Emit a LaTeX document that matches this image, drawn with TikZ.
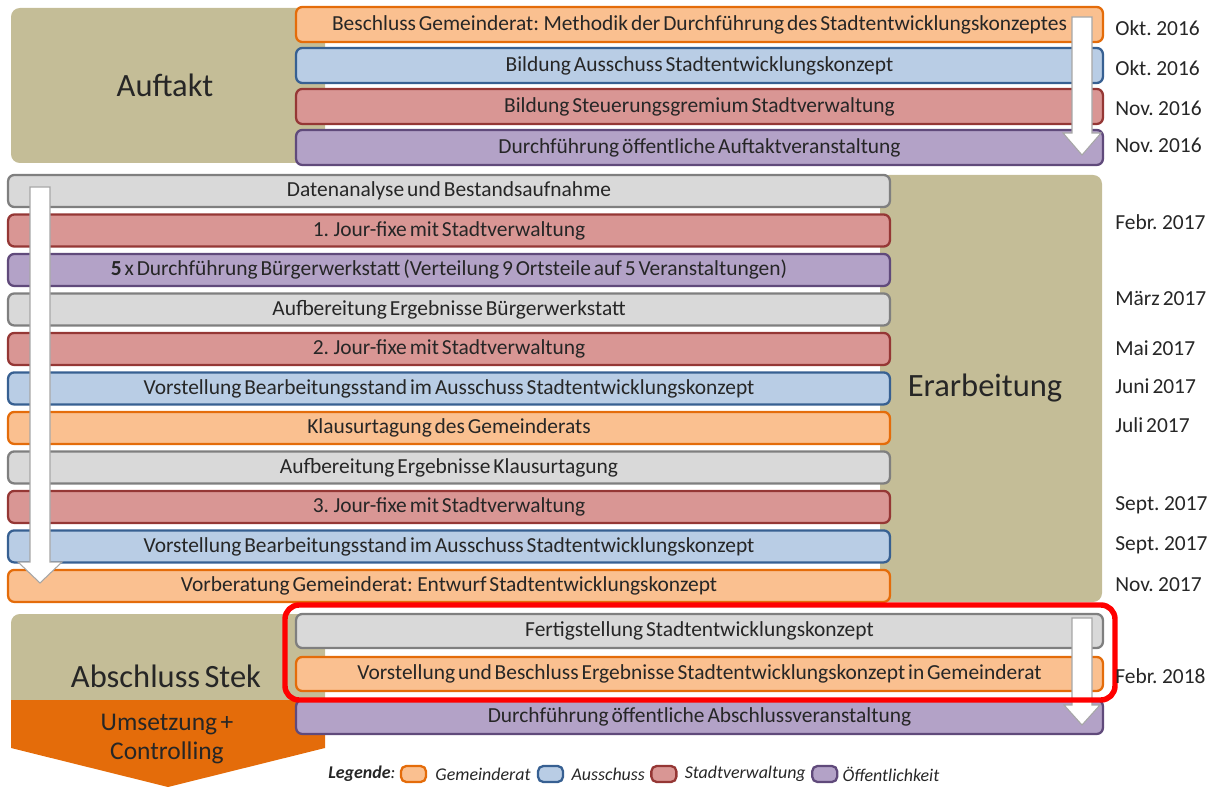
\documentclass[tikz,border=0pt]{standalone}
\usepackage{fontspec}
\setmainfont{Carlito}[WordSpace=0.6]
\usepackage{tikz}
\usetikzlibrary{positioning}
\definecolor{ratfill}{HTML}{FAC090}
\definecolor{ratdraw}{HTML}{E46C0A}
\definecolor{ausfill}{HTML}{B9CDE5}
\definecolor{ausdraw}{HTML}{376092}
\definecolor{stadtfill}{HTML}{D99694}
\definecolor{stadtdraw}{HTML}{953735}
\definecolor{oefffill}{HTML}{B3A2C7}
\definecolor{oeffdraw}{HTML}{604A7B}
\definecolor{graufill}{HTML}{D9D9D9}
\definecolor{graudraw}{HTML}{7F7F7F}
\definecolor{phasefill}{HTML}{C4BD97}
\definecolor{umsetzfill}{HTML}{E46C0A}
\tikzset{row node/.style = {rounded corners=3.5pt, line width=1.3pt, inner sep=0pt,
    font=\fontsize{12.2}{14}\selectfont, text=black!85}}
\tikzset{rat node/.style = {row node, fill=ratfill, draw=ratdraw},
  aus node/.style = {row node, fill=ausfill, draw=ausdraw},
  stadt node/.style = {row node, fill=stadtfill, draw=stadtdraw},
  oeff node/.style = {row node, fill=oefffill, draw=oeffdraw},
  grau node/.style = {row node, fill=graufill, draw=graudraw}}

\begin{document}
\begin{tikzpicture}[x=0.02cm, y=-0.02cm, node distance=0.82cm,
    top row/.style={minimum width=16.14cm, minimum height=0.7cm},
    mid row/.style={minimum width=17.64cm, minimum height=0.64cm},
    phase/.style={fill=phasefill, rounded corners=5pt},
    phase text/.style={font=\fontsize{18.5}{22}\selectfont, text=black!85},
    date/.style={anchor=west, inner sep=0pt, font=\fontsize{12.2}{14}\selectfont, text=black!85},
    white arrow/.style={fill=white, draw=black!35, line width=0.6pt},
    red frame/.style={draw=red, line width=3.1pt, rounded corners=8pt},
    legend box/.style={minimum width=0.5cm, minimum height=0.32cm, rounded corners=3pt},
    legend text/.style={inner sep=0pt, font=\fontsize{10.2}{12}\selectfont\itshape, text=black!85}]
  \useasboundingbox (0,0) rectangle (1215,787);

  % phases
  \fill[phase] (11,8) rectangle (325,163);
  \fill[phase] (880,175) rectangle (1102,602);
  \fill[phase] (11,614) rectangle (325,715);
  \fill[umsetzfill] (11,700) -- (325,700) -- (325,748) -- (168,787) -- (11,748) -- cycle;
  \node[phase text] (auftakt) at (165,85) {Auftakt};
  \node[phase text] (erarb) at (985,388) {Erarbeitung};
  \node[phase text] (abschl) at (166,676) {Abschluss Stek};
  \node[align=center, font=\fontsize{14.5}{17}\selectfont, text=black!85] (umsetz) at (167,739) {Umsetzung +\\Controlling};

  % Auftakt
  \node[rat node, top row] (a1) at (699.5,24.5) {Beschluss Gemeinderat: Methodik der Durchführung des Stadtentwicklungskonzeptes};
  \node[aus node, top row] (a2) [below of=a1] {Bildung Ausschuss Stadtentwicklungskonzept};
  \node[stadt node, top row] (a3) [below of=a2] {Bildung Steuerungsgremium Stadtverwaltung};
  \node[oeff node, top row] (a4) [below of=a3] {Durchführung öffentliche Auftaktveranstaltung};

  % Erarbeitung
  \begin{scope}[node distance=0.79cm]
  \node[grau node, mid row] (e1) at (449,191) {Datenanalyse und Bestandsaufnahme};
  \node[stadt node, mid row] (e2) [below of=e1] {1. Jour-fixe mit Stadtverwaltung};
  \node[oeff node, mid row] (e3) [below of=e2] {\textbf{5} x Durchführung Bürgerwerkstatt (Verteilung 9 Ortsteile auf 5 Veranstaltungen)};
  \node[grau node, mid row] (e4) [below of=e3] {Aufbereitung Ergebnisse Bürgerwerkstatt};
  \node[stadt node, mid row] (e5) [below of=e4] {2. Jour-fixe mit Stadtverwaltung};
  \node[aus node, mid row] (e6) [below of=e5] {Vorstellung Bearbeitungsstand im Ausschuss Stadtentwicklungskonzept};
  \node[rat node, mid row] (e7) [below of=e6] {Klausurtagung des Gemeinderats};
  \node[grau node, mid row] (e8) [below of=e7] {Aufbereitung Ergebnisse Klausurtagung};
  \node[stadt node, mid row] (e9) [below of=e8] {3. Jour-fixe mit Stadtverwaltung};
  \node[aus node, mid row] (e10) [below of=e9] {Vorstellung Bearbeitungsstand im Ausschuss Stadtentwicklungskonzept};
  \node[rat node, mid row] (e11) [below of=e10] {Vorberatung Gemeinderat: Entwurf Stadtentwicklungskonzept};
  \end{scope}

  % Abschluss
  \begin{scope}[node distance=0.86cm]
  \node[grau node, top row, minimum height=0.68cm] (s1) at (699.5,631) {Fertigstellung Stadtentwicklungskonzept};
  \node[rat node, top row, minimum height=0.68cm] (s2) [below of=s1] {Vorstellung und Beschluss Ergebnisse Stadtentwicklungskonzept in Gemeinderat};
  \node[oeff node, top row, minimum height=0.68cm] (s3) [below of=s2] {Durchführung öffentliche Abschlussveranstaltung};
  \end{scope}

  % Pfeile
  \foreach \cx/\hw/\ytop/\yneck/\ytip in {1082/19/17/133/155, 40/22/187/562/583, 1082/18/618/705/725}
    \draw[white arrow] (\cx-10,\ytop) -- (\cx+10,\ytop) -- (\cx+10,\yneck) -- (\cx+\hw,\yneck)
      -- (\cx,\ytip) -- (\cx-\hw,\yneck) -- (\cx-10,\yneck) -- cycle;
  \draw[red frame] (285,605) rectangle (1115,700);

  % Termine
  \node[date] (d1) at (1115,28) {Okt. 2016};
  \node[date] (d2) at (1115,68) {Okt. 2016};
  \node[date] (d3) at (1115,108) {Nov. 2016};
  \node[date] (d4) at (1115,145) {Nov. 2016};
  \node[date] (d5) at (1115,222) {Febr. 2017};
  \node[date] (d6) at (1115,298) {März 2017};
  \node[date] (d7) at (1115,348) {Mai 2017};
  \node[date] (d8) at (1115,386) {Juni 2017};
  \node[date] (d9) at (1115,425) {Juli 2017};
  \node[date] (d10) at (1115,505) {Sept. 2017};
  \node[date] (d11) at (1115,545) {Sept. 2017};
  \node[date] (d12) at (1115,585) {Nov. 2017};
  \node[date] (d13) at (1115,676) {Febr. 2018};

  % Legende
  \node[legend text, anchor=west] (leg) at (328,774) {\textbf{Legende}:};
  \node[rat node, legend box, right=0.08cm of leg] (l1) {};
  \node[legend text, right=0.16cm of l1] (l1t) {Gemeinderat};
  \node[aus node, legend box, right=0.12cm of l1t] (l2) {};
  \node[legend text, right=0.14cm of l2] (l2t) {Ausschuss};
  \node[stadt node, legend box, right=0.1cm of l2t] (l3) {};
  \node[legend text, right=0.14cm of l3] (l3t) {Stadtverwaltung};
  \node[oeff node, legend box, right=0.1cm of l3t] (l4) {};
  \node[legend text, right=0.08cm of l4] (l4t) {Öffentlichkeit};
\end{tikzpicture}
\end{document}
